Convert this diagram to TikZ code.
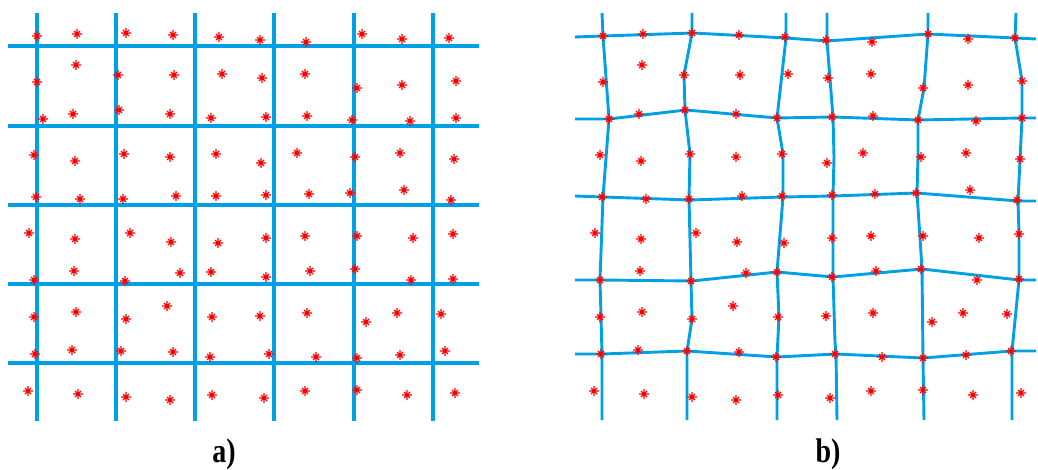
\documentclass[tikz,border=0pt]{standalone}
\usepackage{fontspec}
\setmainfont{Liberation Serif}
\definecolor{gridblue}{RGB}{0,160,230}
\definecolor{ptred}{RGB}{255,0,0}
\tikzset{
  gridline/.style={draw=gridblue, line width=3.2pt, line join=round},
  warpline/.style={draw=gridblue, line width=2.9pt, line join=round},
  redmark/.pic={
    \draw[ptred, line width=1.1pt] (-5,0)--(5,0) (0,-5)--(0,5)
      (-3,-3)--(3,3) (-3,3)--(3,-3);
    \fill[ptred] (0,0) circle (1.7);
  },
  panellabel/.style={font=\fontsize{28}{28}\selectfont\bfseries, yscale=1.22, inner sep=0pt}
}
\def\pts{37/36, 77/34, 126/33, 173/35, 219/37, 260/40, 306/42, 362/34, 402/39, 449/38,
37/82, 76/65, 118/75, 174/75, 222/74, 262/78, 305/74, 357/88, 402/85, 456/81,
43/119, 73/114, 119/110, 170/114, 211/118, 266/117, 307/116, 352/120, 410/121, 456/118,
34/155, 75/161, 124/154, 170/157, 216/154, 261/163, 297/153, 355/157, 400/153, 454/159,
36/197, 80/199, 123/199, 176/196, 216/196, 266/195, 309/194, 350/193, 404/190, 451/200,
29/233, 75/239, 130/233, 171/242, 218/243, 266/238, 305/236, 357/236, 413/238, 453/234,
34/280, 74/271, 125/281, 180/273, 211/272, 266/277, 310/271, 355/269, 411/280, 453/279,
34/317, 76/312, 126/319, 167/306, 212/317, 260/316, 307/313, 366/322, 397/313, 441/314,
35/354, 72/350, 121/351, 173/352, 210/357, 269/354, 316/357, 357/358, 400/355, 445/351,
28/391, 78/394, 126/397, 170/400, 212/395, 264/398, 305/391, 357/390, 407/395, 455/393}
\begin{document}
\begin{tikzpicture}[x=1pt,y=-1pt]
\useasboundingbox (0,0) rectangle (1038,470);
% ---- panel a: regular grid
\foreach \gx in {37,116,195,274,354,433} \draw[gridline] (\gx,13) -- (\gx,421);
\foreach \gy in {46,126,205,284,363} \draw[gridline] (8,\gy) -- (479,\gy);
\foreach \px/\py in \pts \pic at (\px,\py) {redmark};
% ---- panel b: warped grid
\draw[warpline] (602,13) -- (603,36) -- (609,119) -- (603,197) -- (600,280) -- (602,354) -- (602,420);
\draw[warpline] (692,13) -- (692,33) -- (684,75) -- (685,110) -- (690,154) -- (689,199) -- (691,281) -- (692,319) -- (687,351) -- (687,420);
\draw[warpline] (786,13) -- (786,38) -- (777,118) -- (783,154) -- (783,197) -- (777,272) -- (779,317) -- (777,357) -- (777,420);
\draw[warpline] (827,13) -- (827,41) -- (833,117) -- (834,157) -- (833,196) -- (833,277) -- (835,342) -- (836,354) -- (837,420);
\draw[warpline] (928,13) -- (928,34) -- (924,88) -- (918,120) -- (918,157) -- (917,193) -- (920,238) -- (922,269) -- (923,358) -- (924,420);
\draw[warpline] (1016,13) -- (1015,38) -- (1022,81) -- (1022,118) -- (1020,160) -- (1018,201) -- (1019,234) -- (1019,280) -- (1012,351) -- (1012,420);
\draw[warpline] (575,37) -- (603,36) -- (693,33) -- (786,38) -- (827,41) -- (928,34) -- (1015,38) -- (1036,39);
\draw[warpline] (575,119) -- (609,119) -- (686,110) -- (777,118) -- (833,117) -- (918,120) -- (1022,118) -- (1036,118);
\draw[warpline] (575,196) -- (603,197) -- (690,200) -- (783,197) -- (833,196) -- (917,193) -- (1018,201) -- (1036,201);
\draw[warpline] (575,280) -- (600,280) -- (692,281) -- (777,272) -- (833,277) -- (922,269) -- (1019,280) -- (1036,280);
\draw[warpline] (575,354) -- (602,354) -- (687,351) -- (777,357) -- (836,354) -- (923,358) -- (1012,351) -- (1036,351);
\begin{scope}[xshift=566pt]
\foreach \px/\py in \pts \pic at (\px,\py) {redmark};
\end{scope}
% ---- labels
\node[panellabel] (la) at (224,454) {a)};
\node[panellabel] (lb) at (828,454) {b)};
\end{tikzpicture}
\end{document}
